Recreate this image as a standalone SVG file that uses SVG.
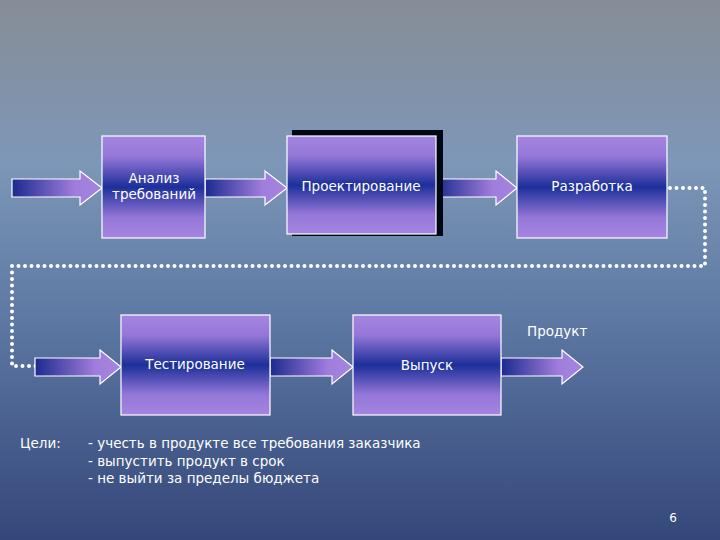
<svg xmlns="http://www.w3.org/2000/svg" width="720" height="540" viewBox="0 0 720 540">
<defs>
<linearGradient id="bg" x1="0" y1="0" x2="0" y2="1">
<stop offset="0" stop-color="#878d96"/><stop offset="0.3" stop-color="#7d97b8"/><stop offset="0.6" stop-color="#5c77a2"/><stop offset="1" stop-color="#34477a"/>
</linearGradient>
<linearGradient id="box" x1="0" y1="0" x2="0" y2="1">
<stop offset="0" stop-color="#a585e0"/><stop offset="0.2" stop-color="#9577d8"/><stop offset="0.5" stop-color="#1c2f9a"/><stop offset="0.8" stop-color="#9577d8"/><stop offset="1" stop-color="#a585e0"/>
</linearGradient>
<linearGradient id="arr" x1="0" y1="0" x2="1" y2="0">
<stop offset="0" stop-color="#1c2a8e"/><stop offset="0.7" stop-color="#a07ddc"/><stop offset="1" stop-color="#a585e0"/>
</linearGradient>
<style>
.b{fill:url(#box);stroke:#fff;stroke-width:1.2}
.a{fill:url(#arr);stroke:#fff;stroke-width:1.2}
.t{font-family:"DejaVu Sans",Verdana,sans-serif;font-size:13.5px;fill:#fff;text-anchor:middle}
.g{font-family:"DejaVu Sans",Verdana,sans-serif;font-size:13.5px;fill:#fff}
.d{fill:none;stroke:#fff;stroke-width:4;stroke-linecap:round;stroke-dasharray:0 6.5}
</style>
</defs>
<rect width="720" height="540" fill="url(#bg)"/>
<g id="connectors">
<path class="d" d="M670 188 H705 V266 H12 V366 H38"/>
<path class="a" d="M12 179 H80 V171 L102 188 L80 205 V197 H12 Z"/>
<path class="a" d="M205 179 H265 V171 L287 188 L265 205 V197 H205 Z"/>
<path class="a" d="M436 179 H496 V171 L517 188 L496 205 V197 H436 Z"/>
<path class="a" d="M35 358 H100 V350 L121 367 L100 384 V376 H35 Z"/>
<path class="a" d="M270 358 H332 V350 L353 367 L332 384 V376 H270 Z"/>
<path class="a" d="M501 358 H562 V350 L583 367 L562 384 V376 H501 Z"/>
</g>
<g id="n1"><rect class="b" x="102" y="136" width="103" height="102"/><text class="t" x="154" y="183">Анализ</text><text class="t" x="154" y="199">требований</text></g>
<g id="n2"><rect x="292" y="130" width="151" height="106" fill="#000814"/><rect class="b" x="287" y="136" width="149" height="98"/><text class="t" x="361" y="191">Проектирование</text></g>
<g id="n3"><rect class="b" x="517" y="136" width="150" height="102"/><text class="t" x="592" y="191">Разработка</text></g>
<g id="n4"><rect class="b" x="121" y="315" width="149" height="100"/><text class="t" x="195" y="369">Тестирование</text></g>
<g id="n5"><rect class="b" x="353" y="315" width="148" height="100"/><text class="t" x="427" y="370">Выпуск</text></g>
<text class="g" x="527" y="336">Продукт</text>
<text class="g" x="20" y="448">Цели:</text>
<text class="g" x="88" y="448">- учесть в продукте все требования заказчика</text>
<text class="g" x="88" y="466">- выпустить продукт в срок</text>
<text class="g" x="88" y="483">- не выйти за пределы бюджета</text>
<text class="t" x="673" y="522" style="font-size:12px">6</text>
</svg>
